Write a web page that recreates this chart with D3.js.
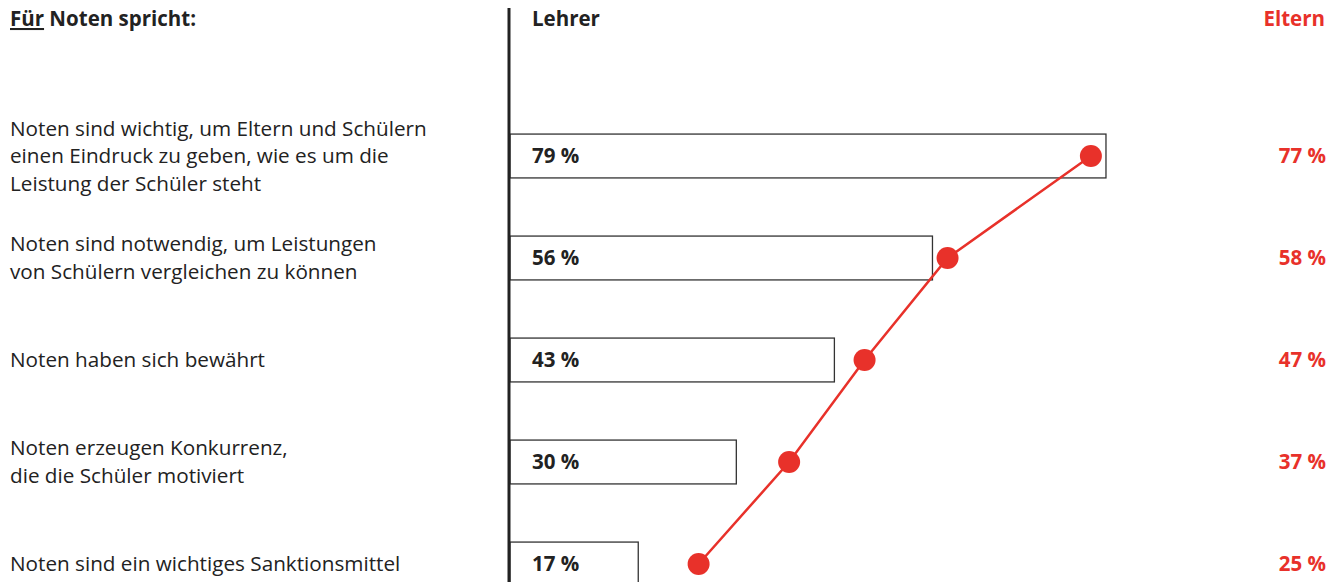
<!DOCTYPE html>
<html><head><meta charset="utf-8">
<script src="https://cdn.jsdelivr.net/npm/d3@7"></script>
<style>
html,body{margin:0;padding:0;background:#fff;}
svg{display:block;}
text{font-family:"Open Sans","Noto Sans",sans-serif;}
</style></head>
<body><svg id="c" width="1344" height="582"></svg>
<script>
const categories = [
  ["Noten sind wichtig, um Eltern und Schülern","einen Eindruck zu geben, wie es um die","Leistung der Schüler steht"],
  ["Noten sind notwendig, um Leistungen","von Schülern vergleichen zu können"],
  ["Noten haben sich bewährt"],
  ["Noten erzeugen Konkurrenz,","die die Schüler motiviert"],
  ["Noten sind ein wichtiges Sanktionsmittel"]
];
const lehrer = [79, 56, 43, 30, 17];
const eltern = [77, 58, 47, 37, 25];
const headers = {title: "Für Noten spricht:", a: "Lehrer", b: "Eltern"};

const red = "#e8312a", dark = "#222";
const svg = d3.select("#c");
const x = d3.scaleLinear().domain([0, 100]).range([510, 1264.4]);
const y = d3.scaleBand().domain(d3.range(categories.length)).range([105, 615]).paddingInner(0.57).paddingOuter(0.285);
const cy = i => y(i) + y.bandwidth() / 2;

// headers
const t = svg.append("text").attr("x", 10).attr("y", 26).attr("font-size", 20.5).attr("font-weight", 700).attr("fill", dark);
t.append("tspan").attr("text-decoration", "underline").text("Für");
t.append("tspan").text(" Noten spricht:");
svg.append("text").attr("x", 532).attr("y", 26).attr("font-size", 20.5).attr("font-weight", 700).attr("fill", dark).text(headers.a);
svg.append("text").attr("x", 1325).attr("y", 26).attr("font-size", 20.5).attr("font-weight", 700).attr("fill", red).attr("text-anchor", "end").text(headers.b);

// category labels
categories.forEach((lines, i) => {
  const lh = 27.5;
  const start = cy(i) - (lines.length - 1) * lh / 2;
  lines.forEach((l, j) => {
    svg.append("text").attr("x", 10).attr("y", start + j * lh).attr("dy", "0.35em")
      .attr("font-size", 20.7).attr("fill", dark).text(l);
  });
});

// bars
svg.selectAll("rect.bar").data(lehrer).join("rect").attr("class", "bar")
  .attr("x", x(0)).attr("y", (d, i) => y(i)).attr("width", d => x(d) - x(0)).attr("height", y.bandwidth())
  .attr("fill", "#fff").attr("stroke", "#333").attr("stroke-width", 1.3);

svg.selectAll("text.lv").data(lehrer).join("text").attr("class", "lv")
  .attr("x", 532).attr("y", (d, i) => cy(i)).attr("dy", "0.35em").attr("font-size", 20.5).attr("font-weight", 700)
  .attr("fill", dark).text(d => d + " %");

// axis line
svg.append("line").attr("x1", 509).attr("x2", 509).attr("y1", 8).attr("y2", 582).attr("stroke", dark).attr("stroke-width", 3);

// eltern line
const line = d3.line().x(d => x(d)).y((d, i) => cy(i));
svg.append("path").datum(eltern).attr("d", line).attr("fill", "none").attr("stroke", red).attr("stroke-width", 2.5);
svg.selectAll("circle").data(eltern).join("circle").attr("cx", d => x(d)).attr("cy", (d, i) => cy(i)).attr("r", 11).attr("fill", red);

svg.selectAll("text.ev").data(eltern).join("text").attr("class", "ev")
  .attr("x", 1326).attr("y", (d, i) => cy(i)).attr("dy", "0.35em").attr("text-anchor", "end").attr("font-size", 20.5).attr("font-weight", 700)
  .attr("fill", red).text(d => d + " %");
</script></body></html>
